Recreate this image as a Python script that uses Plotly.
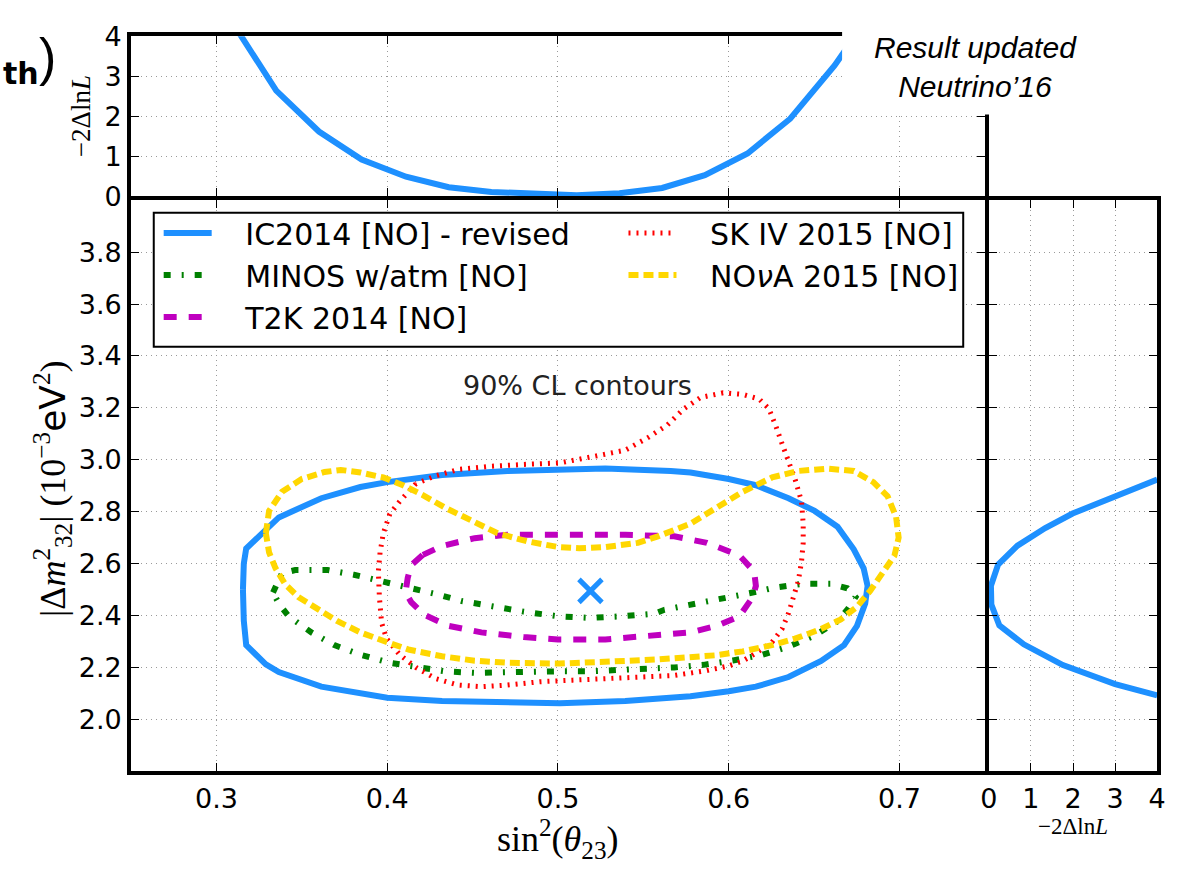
import plotly.graph_objects as go

# ---------------- data ----------------
# IceCube 2014 [NO] - revised, 90% CL contour
ic_sin2 = [0.3155, 0.3160, 0.3174, 0.3365, 0.3614, 0.3843, 0.4000, 0.4321, 0.4704, 0.5000,
           0.5277, 0.5660, 0.5776, 0.6000, 0.6159, 0.6350, 0.6503, 0.6637, 0.6732, 0.6790,
           0.6813, 0.6799, 0.6751, 0.6675, 0.6541, 0.6350, 0.6159, 0.6000, 0.5776, 0.5394,
           0.5011, 0.4321, 0.4000, 0.3614, 0.3365, 0.3289, 0.3174, 0.3160, 0.3155]
ic_dm2 = [2.500, 2.600, 2.658, 2.778, 2.852, 2.895, 2.914, 2.941, 2.957, 2.963,
          2.966, 2.957, 2.951, 2.926, 2.902, 2.852, 2.803, 2.742, 2.655, 2.582,
          2.514, 2.446, 2.360, 2.286, 2.225, 2.163, 2.126, 2.108, 2.089, 2.071,
          2.062, 2.071, 2.083, 2.126, 2.182, 2.212, 2.286, 2.380, 2.500]

# MINOS w/atm [NO]
minos_sin2 = [0.3331, 0.3384, 0.3461, 0.3652, 0.3805, 0.3977, 0.4130, 0.4283, 0.4436, 0.4608,
              0.4799, 0.5000, 0.5182, 0.5373, 0.5564, 0.5623, 0.5776, 0.5929, 0.6120, 0.6273,
              0.6426, 0.6598, 0.6694, 0.6742, 0.6694, 0.6637, 0.6503, 0.6350, 0.6197, 0.6025,
              0.5853, 0.5681, 0.5490, 0.5184, 0.5000, 0.4684, 0.4512, 0.4340, 0.4187, 0.4015,
              0.3843, 0.3690, 0.3556, 0.3423, 0.3365, 0.3331]
minos_dm2 = [2.489, 2.563, 2.575, 2.575, 2.557, 2.532, 2.510, 2.483, 2.456, 2.434,
             2.415, 2.397, 2.391, 2.397, 2.407, 2.422, 2.440, 2.461, 2.486, 2.508,
             2.522, 2.522, 2.505, 2.471, 2.422, 2.378, 2.323, 2.280, 2.249, 2.227,
             2.210, 2.200, 2.194, 2.185, 2.185, 2.179, 2.179, 2.185, 2.200, 2.218,
             2.249, 2.286, 2.335, 2.397, 2.446, 2.489]

# T2K 2014 [NO]
t2k_sin2 = [0.4207, 0.4140, 0.4120, 0.4107, 0.4140, 0.4216, 0.4359, 0.4551, 0.4799, 0.5000,
            0.5277, 0.5564, 0.5776, 0.5929, 0.6063, 0.6140, 0.6159, 0.6149, 0.6063, 0.5872,
            0.5681, 0.5394, 0.5000, 0.4704, 0.4512, 0.4321, 0.4207]
t2k_dm2 = [2.633, 2.594, 2.545, 2.489, 2.452, 2.403, 2.360, 2.335, 2.317, 2.308,
           2.308, 2.321, 2.335, 2.360, 2.397, 2.471, 2.514, 2.569, 2.631, 2.680,
           2.705, 2.711, 2.711, 2.711, 2.698, 2.668, 2.633]

# SK IV 2015 [NO]
sk_sin2 = [0.4168, 0.4073, 0.4015, 0.3977, 0.3958, 0.3948, 0.3954, 0.3967, 0.3996, 0.4073,
           0.4168, 0.4283, 0.4417, 0.4551, 0.4704, 0.4895, 0.5086, 0.5277, 0.5468, 0.5681,
           0.5872, 0.6000, 0.6082, 0.6159, 0.6254, 0.6312, 0.6350, 0.6379, 0.6407, 0.6426,
           0.6436, 0.6436, 0.6426, 0.6388, 0.6350, 0.6312, 0.6273, 0.6235, 0.6178, 0.6082,
           0.5967, 0.5834, 0.5738, 0.5642, 0.5528, 0.5394, 0.5203, 0.5011, 0.4799, 0.4608,
           0.4417, 0.4283, 0.4168]
sk_dm2 = [2.908, 2.840, 2.791, 2.717, 2.643, 2.569, 2.471, 2.372, 2.311, 2.249,
          2.200, 2.157, 2.132, 2.126, 2.132, 2.145, 2.151, 2.157, 2.166, 2.169,
          2.188, 2.206, 2.225, 2.255, 2.298, 2.348, 2.409, 2.471, 2.532, 2.606,
          2.680, 2.754, 2.840, 2.926, 2.988, 3.062, 3.135, 3.197, 3.234, 3.252,
          3.258, 3.240, 3.197, 3.135, 3.086, 3.037, 3.012, 2.988, 2.982, 2.975,
          2.963, 2.938, 2.908]

# NOvA 2015 [NO]
nova_sin2 = [0.3289, 0.3308, 0.3384, 0.3499, 0.3633, 0.3728, 0.3843, 0.3977, 0.4092, 0.4206,
             0.4340, 0.4493, 0.4646, 0.4818, 0.5000, 0.5124, 0.5277, 0.5468, 0.5585, 0.5776,
             0.5929, 0.6082, 0.6254, 0.6407, 0.6579, 0.6732, 0.6847, 0.6930, 0.6980, 0.6995,
             0.6970, 0.6904, 0.6828, 0.6751, 0.6656, 0.6541, 0.6388, 0.6254, 0.6082, 0.5929,
             0.5776, 0.5585, 0.5394, 0.5011, 0.4704, 0.4512, 0.4321, 0.4130, 0.3996, 0.3843,
             0.3709, 0.3595, 0.3480, 0.3403, 0.3346, 0.3308, 0.3289]
nova_dm2 = [2.717, 2.803, 2.877, 2.926, 2.953, 2.961, 2.951, 2.932, 2.902, 2.865,
            2.815, 2.766, 2.717, 2.686, 2.664, 2.659, 2.664, 2.680, 2.705, 2.754,
            2.815, 2.877, 2.932, 2.957, 2.966, 2.957, 2.914, 2.860, 2.780, 2.700,
            2.630, 2.569, 2.495, 2.434, 2.385, 2.348, 2.311, 2.286, 2.262, 2.247,
            2.239, 2.231, 2.225, 2.215, 2.218, 2.226, 2.243, 2.268, 2.298, 2.335,
            2.378, 2.422, 2.471, 2.520, 2.582, 2.643, 2.717]

# IceCube best fit
bf_sin2 = [0.519]
bf_dm2 = [2.495]

# profile likelihood in sin^2(theta23) (top panel)
prof_sin2 = [0.310, 0.335, 0.360, 0.385, 0.411, 0.436, 0.461, 0.486, 0.511, 0.536,
             0.561, 0.586, 0.611, 0.636, 0.662, 0.687]
prof_sin2_llh = [4.30, 2.64, 1.62, 0.92, 0.49, 0.23, 0.11, 0.055, 0.03, 0.08,
                 0.21, 0.53, 1.07, 1.94, 3.27, 4.80]

# profile likelihood in |dm2_32| (right panel)
prof_dm2 = [2.092, 2.136, 2.209, 2.289, 2.362, 2.442, 2.515, 2.596, 2.669, 2.737,
            2.793, 2.858, 2.924]
prof_dm2_llh = [4.00, 3.00, 1.76, 0.83, 0.25, 0.06, 0.05, 0.22, 0.68, 1.34,
                1.99, 3.00, 4.00]

# ticks
sin2_ticks = [0.3, 0.4, 0.5, 0.6, 0.7]
dm2_ticks = [2.0, 2.2, 2.4, 2.6, 2.8, 3.0, 3.2, 3.4, 3.6, 3.8]
llh_ticks = [0, 1, 2, 3, 4]

# ---------------- layout geometry (pixels, centres of the frame lines) ----------------
W, H = 1180, 875
XL, XM, XR = 122, 993, 1168      # left edge, main/right split, right edge
YT, YM, YB = 19, 189, 785        # top of top panel, top of main, bottom
LW = 4                           # frame line width
HL = LW / 2


def fx(p):
    return p / W


def fy(p):
    return 1 - p / H


BLUE = "#1E90FF"
GREEN = "#008000"
MAGENTA = "#BF00BF"
RED = "#FF0000"
GOLD = "#FFD700"
PAD = "\u00a0\u00a0\u00a0"

fig = go.Figure()


def add_contour(x, y, name, color, width, dash, legend, rank):
    fig.add_trace(go.Scatter(
        x=x, y=y, mode="lines", name=PAD + name, legend=legend, legendrank=rank,
        line=dict(color=color, width=width, dash=dash),
        xaxis="x", yaxis="y", hoverinfo="skip"))


add_contour(ic_sin2, ic_dm2, "IC2014 [NO] - revised", BLUE, 6, "solid", "legend", 1)
add_contour(minos_sin2, minos_dm2, "MINOS w/atm [NO]", GREEN, 6, "7px,11px,2px,11px", "legend", 2)
add_contour(t2k_sin2, t2k_dm2, "T2K 2014 [NO]", MAGENTA, 6, "13px,12px", "legend", 3)
add_contour(sk_sin2, sk_dm2, "SK IV 2015 [NO]", RED, 5, "2px,6px", "legend2", 4)
add_contour(nova_sin2, nova_dm2, "NO<i>ν</i>A 2015 [NO]", GOLD, 6, "10px,5px", "legend2", 5)

fig.add_trace(go.Scatter(
    x=bf_sin2, y=bf_dm2, mode="markers", showlegend=False, hoverinfo="skip",
    marker=dict(symbol="x-thin", size=23, line=dict(width=5, color=BLUE)),
    xaxis="x", yaxis="y"))

fig.add_trace(go.Scatter(
    x=prof_sin2, y=prof_sin2_llh, mode="lines", showlegend=False, hoverinfo="skip",
    line=dict(color=BLUE, width=6), xaxis="x2", yaxis="y2"))

fig.add_trace(go.Scatter(
    x=prof_dm2_llh, y=prof_dm2, mode="lines", showlegend=False, hoverinfo="skip",
    line=dict(color=BLUE, width=6), xaxis="x3", yaxis="y3"))

tickfont = dict(family="DejaVu Sans", size=27, color="black")
axis_common = dict(
    showline=True, linewidth=LW, linecolor="black", mirror="allticks",
    ticks="inside", ticklen=8, tickwidth=1, tickcolor="black",
    showgrid=True, gridcolor="#9a9a9a", gridwidth=1, griddash="1px,4px",
    zeroline=False, tickfont=tickfont, fixedrange=True,
)

main_xdom = [fx(XL + HL), fx(XM - HL)]
right_xdom = [fx(XM + HL), fx(XR - HL)]
main_ydom = [fy(YB - HL), fy(YM + HL)]
top_ydom = [fy(YM - HL), fy(YT + HL)]

legend_font = dict(family="DejaVu Sans", size=30, color="black")

fig.update_layout(
    width=W, height=H,
    margin=dict(l=0, r=0, t=0, b=0),
    paper_bgcolor="white", plot_bgcolor="white",
    xaxis=dict(axis_common, domain=main_xdom, range=[0.25, 0.75], anchor="y",
               tickvals=sin2_ticks, ticktext=[f"{v:.1f}" for v in sin2_ticks]),
    yaxis=dict(axis_common, domain=main_ydom, range=[1.8, 4.0], anchor="x",
               tickvals=dm2_ticks, ticktext=[f"{v:.1f}" for v in dm2_ticks]),
    xaxis2=dict(axis_common, domain=main_xdom, range=[0.25, 0.75], anchor="y2",
                tickvals=sin2_ticks, showticklabels=False),
    yaxis2=dict(axis_common, domain=top_ydom, range=[0, 4], anchor="x2",
                tickvals=llh_ticks, ticktext=[str(v) for v in llh_ticks]),
    xaxis3=dict(axis_common, domain=right_xdom, range=[0, 4], anchor="y3",
                tickvals=llh_ticks, ticktext=[str(v) for v in llh_ticks]),
    yaxis3=dict(axis_common, domain=main_ydom, range=[1.8, 4.0], anchor="x3",
                tickvals=dm2_ticks, showticklabels=False),
    legend=dict(x=fx(152), y=fy(198), xanchor="left", yanchor="top",
                bgcolor="rgba(0,0,0,0)", borderwidth=0, itemwidth=48,
                font=legend_font, tracegroupgap=0),
    legend2=dict(x=fx(624), y=fy(198), xanchor="left", yanchor="top",
                 bgcolor="rgba(0,0,0,0)", borderwidth=0, itemwidth=48,
                 font=legend_font, tracegroupgap=0),
    shapes=[
        # legend frame
        dict(type="rect", xref="paper", yref="paper",
             x0=fx(147), x1=fx(969), y0=fy(343), y1=fy(204),
             line=dict(color="black", width=2), fillcolor="white", layer="above"),
        # white label box hiding the top-right corner of the top panel
        dict(type="rect", xref="paper", yref="paper",
             x0=fx(846), x1=1.0, y0=fy(102), y1=1.0,
             line=dict(width=0), fillcolor="white", layer="above"),
    ],
)


def note(text, x, y, size, family="DejaVu Sans", angle=0, color="black",
         xanchor="center", yanchor="middle"):
    return dict(text=text, x=fx(x), y=fy(y), xref="paper", yref="paper",
                xanchor=xanchor, yanchor=yanchor, textangle=angle, showarrow=False,
                font=dict(family=family, size=size, color=color))


annotations = [
    note("90% CL contours", 577, 383, 27, color="#222222"),
    note("<i>Result updated</i><br><i>Neutrino’16</i>", 981, 53, 30, "Liberation Sans"),
    note("<b>th</b>", 33, 60, 30, xanchor="right"),
    note(")", 39, 42, 52, "Liberation Sans"),
    note("sin<sup>2</sup>(<i>θ</i><sub>23</sub>)", 557, 853, 36, "Liberation Serif"),
    note("|Δ<i>m</i><sup>2</sup><sub>32</sub>| (10<sup>−3</sup>"
         "<span style='font-family:DejaVu Sans'>eV</span><sup>2</sup>)",
         44, 490, 36, "Liberation Serif", angle=-90),
    note("−2Δln<i>L</i>", 73, 104, 27, "Liberation Serif", angle=-90),
    note("−2Δln<i>L</i>", 1080, 840, 23, "Liberation Serif"),
]
fig.update_layout(annotations=annotations)

fig.write_html("out.html")
